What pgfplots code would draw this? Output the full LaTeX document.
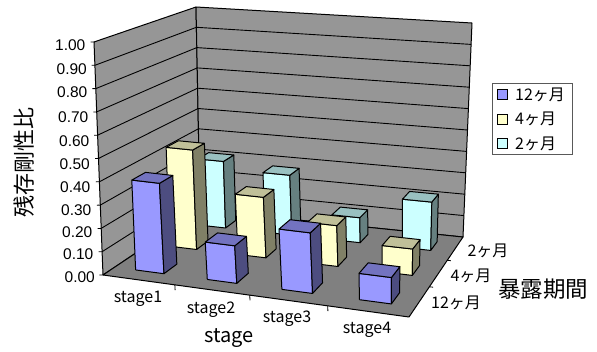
\documentclass[border=0pt]{standalone}
\usepackage{fontspec}
\setmainfont{Noto Sans CJK JP}
\newfontfamily\numfont{Liberation Sans}
\usepackage{pgfplots}
\usepackage{pgfplotstable}
\pgfplotsset{compat=1.18}

\definecolor{bluefront}{HTML}{9999FF}
\definecolor{bluetop}{HTML}{7373C0}
\definecolor{blueside}{HTML}{4D4D80}
\definecolor{yellowfront}{HTML}{FFFFCC}
\definecolor{yellowtop}{HTML}{C0C099}
\definecolor{yellowside}{HTML}{808066}
\definecolor{cyanfront}{HTML}{CCFFFF}
\definecolor{cyantop}{HTML}{99C0C0}
\definecolor{cyanside}{HTML}{668080}

\tikzset{
  vallabel/.style={anchor=east,inner sep=0pt,font=\numfont\fontsize{15.5}{17}\selectfont},
  catlabel/.style={inner sep=0pt,font=\fontsize{16}{18}\selectfont},
}

% Residual stiffness ratio: rows are stages, columns are exposure periods
% (c0 = 12 months, c1 = 4 months, c2 = 2 months).
\pgfplotstableread{
stage c0    c1    c2
1     0.39  0.45  0.315
2     0.16  0.27  0.28
3     0.255 0.18  0.115
4     0.11  0.115 0.22
}\stiffness

% Perspective box: (u,v,w) in the unit cube -> picture position.
% Floor and ceiling planes are projective, heights interpolate between them.
\newcommand\proj[3]{%
  \pgfmathsetmacro\uw{#1+0.05*#1*(1-#1)}%
  \pgfmathsetmacro\dfl{1-0.12375*\uw+0.18891*#2}%
  \pgfmathsetmacro\dtp{1-0.23413*\uw+0.20584*#2}%
  \pgfmathsetmacro\xfl{(255.39*\uw+134.78*#2+103)/\dfl}%
  \pgfmathsetmacro\yfl{(2.77*\uw-25.33*#2+275)/\dfl}%
  \pgfmathsetmacro\xtp{(222.31*\uw+142.34*#2+94)/\dtp}%
  \pgfmathsetmacro\ytp{(13.91*\uw-33.56*#2+42)/\dtp}%
  \pgfmathsetmacro\px{\xfl+(\xtp-\xfl)*#3}%
  \pgfmathsetmacro\py{\yfl+(\ytp-\yfl)*#3}%
}
\newcommand\corner[4]{%
  \proj{#2}{#3}{#4}%
  \expandafter\let\csname x#1\endcsname\px
  \expandafter\let\csname y#1\endcsname\py
}
\newcommand\pt[1]{(\csname x#1\endcsname,\csname y#1\endcsname)}
% closed polygon through four named corners
\newcommand\quadface[6]{%
  \edef\temp{\noexpand\addplot[fill=#1,draw=#2,line width=1pt,line join=round,forget plot]
    coordinates {\pt{#3}\pt{#4}\pt{#5}\pt{#6}\pt{#3}};}\temp
}
% straight line between two named corners
\newcommand\edgeline[3]{%
  \edef\temp{\noexpand\addplot[draw=black,line width=#1,forget plot]
    coordinates {\pt{#2}\pt{#3}};}\temp
}
% one column: stage index, period index, value, colour stem
\newcommand\column[4]{%
  \pgfmathsetmacro\ul{(#1+0.3)/4}\pgfmathsetmacro\ur{(#1+0.7)/4}%
  \pgfmathsetmacro\vf{(#2+0.31)/3}\pgfmathsetmacro\vb{(#2+0.69)/3}%
  \corner{a}{\ul}{\vf}{0}\corner{b}{\ur}{\vf}{0}\corner{c}{\ur}{\vb}{0}%
  \corner{d}{\ul}{\vf}{#3}\corner{e}{\ur}{\vf}{#3}\corner{f}{\ur}{\vb}{#3}\corner{g}{\ul}{\vb}{#3}%
  \quadface{#4front}{black}{a}{b}{e}{d}%
  \quadface{#4side}{black}{b}{c}{f}{e}%
  \quadface{#4top}{black}{d}{e}{f}{g}%
}

\begin{document}
\begin{tikzpicture}
\path[use as bounding box] (0,0) rectangle (597pt,351pt);
\begin{axis}[
  anchor=south west, at={(0,0)},
  scale only axis, width=597pt, height=351pt,
  xmin=0, xmax=597, ymin=0, ymax=351, y dir=reverse,
  hide axis, clip=false,
  legend style={
    at={(0.8241,0.7635)}, anchor=north west,
    draw=black!65, line width=0.8pt, fill=white,
    font=\fontsize{16}{17}\selectfont,
    row sep=6.5pt, inner xsep=5pt, inner ysep=2pt,
    cells={anchor=west},
  },
]
% walls and floor
\corner{A}{0}{0}{0}\corner{B}{1}{0}{0}\corner{C}{1}{1}{0}\corner{D}{0}{1}{0}
\corner{E}{0}{0}{1}\corner{F}{0}{1}{1}\corner{G}{1}{1}{1}
\quadface{black!41}{black}{A}{E}{F}{D}
\quadface{black!41}{black}{D}{F}{G}{C}
\quadface{black!50}{black}{A}{B}{C}{D}
% gridlines and value ticks
\foreach \k in {1,...,9}{
  \pgfmathsetmacro\wk{\k/10}
  \corner{P}{0}{0}{\wk}\corner{Q}{0}{1}{\wk}\corner{R}{1}{1}{\wk}
  \edgeline{0.9pt}{P}{Q}\edgeline{0.9pt}{Q}{R}
}
\foreach \k in {0,...,10}{
  \pgfmathsetmacro\wk{\k/10}
  \corner{P}{-0.010}{-0.006}{\wk}\corner{Q}{0}{0}{\wk}
  \edgeline{0.8pt}{P}{Q}
}
% stage and period ticks under the floor edges
\foreach \uk in {0.25,0.5,0.75}{
  \corner{P}{\uk}{0}{0}\corner{Q}{\uk}{0}{-0.022}
  \edgeline{0.8pt}{P}{Q}
}
\foreach \vk in {0.3333,0.6667}{
  \corner{P}{1}{\vk}{0}\corner{Q}{1.012}{\vk}{0}
  \edgeline{0.8pt}{P}{Q}
}
% columns, rear row first
\foreach \j/\stem in {2/cyan,1/yellow,0/blue}{
  \foreach \i in {0,...,3}{
    \pgfplotstablegetelem{\i}{c\j}\of\stiffness
    \pgfmathsetmacro\val{\pgfplotsretval}
    \column{\i}{\j}{\val}{\stem}
  }
}
% legend
\addlegendimage{legend image code/.code={\draw[fill=bluefront,draw=black,line width=0.8pt] (0pt,-5pt) rectangle (10pt,5pt);}}
\addlegendentry{\hspace{5pt}12ヶ月}
\addlegendimage{legend image code/.code={\draw[fill=yellowfront,draw=black,line width=0.8pt] (0pt,-5pt) rectangle (10pt,5pt);}}
\addlegendentry{\hspace{5pt}4ヶ月}
\addlegendimage{legend image code/.code={\draw[fill=cyanfront,draw=black,line width=0.8pt] (0pt,-5pt) rectangle (10pt,5pt);}}
\addlegendentry{\hspace{5pt}2ヶ月}
% value labels
\node[vallabel] at (axis cs:85.5,45) {1.00};
\node[vallabel] at (axis cs:87,69) {0.90};
\node[vallabel] at (axis cs:87.5,92) {0.80};
\node[vallabel] at (axis cs:88.5,117) {0.70};
\node[vallabel] at (axis cs:89.5,141) {0.60};
\node[vallabel] at (axis cs:90,164) {0.50};
\node[vallabel] at (axis cs:90.5,187) {0.40};
\node[vallabel] at (axis cs:91.5,210) {0.30};
\node[vallabel] at (axis cs:92.5,232) {0.20};
\node[vallabel] at (axis cs:93.5,254) {0.10};
\node[vallabel] at (axis cs:95,277) {0.00};
% category labels
\node[catlabel] at (axis cs:138,299) {stage1};
\node[catlabel] at (axis cs:211,310) {stage2};
\node[catlabel] at (axis cs:287,319) {stage3};
\node[catlabel] at (axis cs:367,330) {stage4};
\node[catlabel] at (axis cs:488,251) {2ヶ月};
\node[catlabel] at (axis cs:471,276) {4ヶ月};
\node[catlabel] at (axis cs:456,303) {12ヶ月};
% axis titles
\node[inner sep=0pt,font=\fontsize{20}{21}\selectfont] at (axis cs:229,338) {stage};
\node[inner sep=0pt,font=\fontsize{22.5}{24}\selectfont] at (axis cs:543,289) {暴露期間};
\node[inner sep=0pt,rotate=90,font=\fontsize{22}{24}\selectfont] at (axis cs:24,162) {残存剛性比};
\end{axis}
\end{tikzpicture}
\end{document}
